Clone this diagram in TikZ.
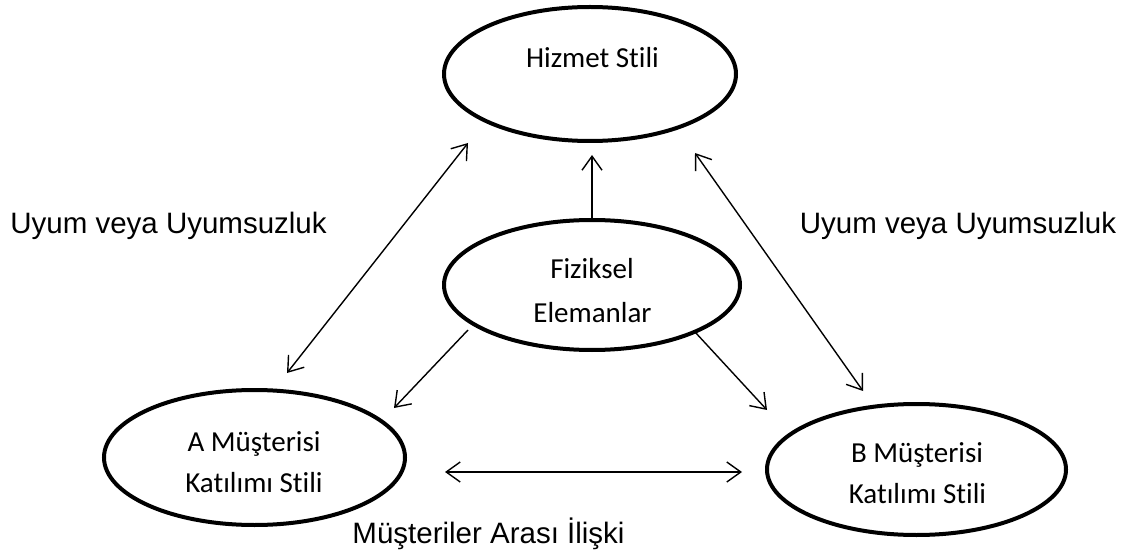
\documentclass[tikz,border=0pt]{standalone}
\usepackage{fontspec}
\setmainfont{Carlito}[Ligatures=NoCommon]
\newfontfamily\labelfont{Liberation Sans}
\usetikzlibrary{shapes.geometric,arrows.meta}

\tikzset{
  oval/.style={ellipse, draw, line width=4pt, inner sep=0pt, fill=white},
  ovaltext/.style={anchor=base, inner sep=0pt, font=\fontsize{29}{34}\selectfont},
  caption/.style={anchor=base, inner sep=0pt, font=\labelfont\fontsize{29.5}{34}\selectfont},
  link/.style={line width=1.4pt, -{Straight Barb[length=14pt,width=20pt,line width=1.4pt]}},
  duplex/.style={line width=1.4pt, {Straight Barb[length=14pt,width=20pt,line width=1.4pt]}-{Straight Barb[length=14pt,width=20pt,line width=1.4pt]}}
}

\begin{document}
\begin{tikzpicture}[x=1pt,y=-1pt]
  \useasboundingbox (0,0) rectangle (1141,556);

  % the four ovals
  \node[oval, minimum width=292pt, minimum height=134pt] (hs) at (590,74) {};
  \node[oval, minimum width=296pt, minimum height=130pt] (fe) at (592,285) {};
  \node[oval, minimum width=301pt, minimum height=135pt] (ma) at (254.5,457.5) {};
  \node[oval, minimum width=299pt, minimum height=131pt] (mb) at (916.5,469.5) {};

  % texts inside the ovals
  \node[ovaltext] (hsT) at (592.5,68) {Hizmet Stili};
  \node[ovaltext] (feT1) at (592,279) {Fiziksel};
  \node[ovaltext] (feT2) at (592.5,322) {Elemanlar};
  \node[ovaltext] (maT1) at (254,451) {A Müşterisi};
  \node[ovaltext] (maT2) at (254,492) {Katılımı Stili};
  \node[ovaltext] (mbT1) at (917,462) {B Müşterisi};
  \node[ovaltext] (mbT2) at (917.5,503) {Katılımı Stili};

  % free captions
  \node[caption] (capL) at (168.5,234) {Uyum veya Uyumsuzluk};
  \node[caption] (capR) at (958,234) {Uyum veya Uyumsuzluk};
  \node[caption] (capB) at (488.5,543) {Müşteriler Arası İlişki};

  % connector end points
  \coordinate (hsA) at (468,143);
  \coordinate (maH) at (287,373);
  \coordinate (hsB) at (695,153);
  \coordinate (mbH) at (863,391);
  \coordinate (hsF) at (592,155);
  \coordinate (feA) at (468,330);
  \coordinate (maF) at (394,408);
  \coordinate (feB) at (695,332);
  \coordinate (mbF) at (767,410);
  \coordinate (maB) at (445,472);
  \coordinate (mbA) at (742,472);

  % connectors
  \draw[duplex] (maH) -- (hsA);
  \draw[duplex] (mbH) -- (hsB);
  \draw[link] (fe.north) -- (hsF);
  \draw[link] (feA) -- (maF);
  \draw[link] (feB) -- (mbF);
  \draw[duplex] (maB) -- (mbA);
\end{tikzpicture}
\end{document}
